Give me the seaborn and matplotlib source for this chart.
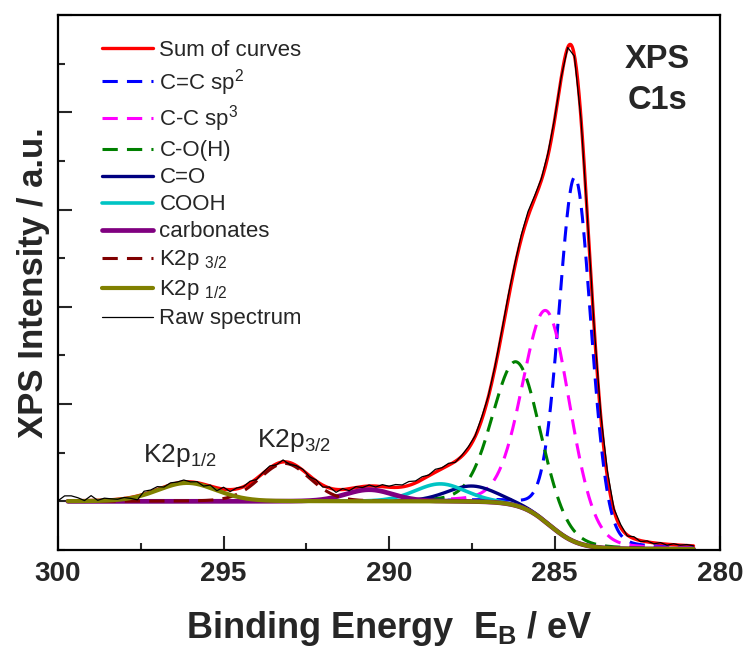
import numpy as np
import pandas as pd
import matplotlib
matplotlib.use("Agg")
import matplotlib.pyplot as plt
import seaborn as sns
from matplotlib.ticker import MultipleLocator, NullFormatter

# ---- data -----------------------------------------------------------------
# Fitted components: centre (eV), height above background (a.u.), FWHM (eV)
component_labels = ["C=C sp$^2$", "C-C sp$^3$", "C-O(H)", "C=O", "COOH",
                    "carbonates", "K2p $_{3/2}$", "K2p $_{1/2}$"]
component_centres = [284.38, 285.22, 286.15, 287.50, 288.45, 290.60, 293.15, 296.10]
component_heights = [3.75, 2.18, 1.48, 0.16, 0.18, 0.12, 0.39, 0.19]
component_fwhm = [1.15, 1.70, 1.70, 1.80, 1.80, 1.70, 1.80, 2.10]
lorentz_fraction = 0.15

# Shirley-type background: level on the high-BE side, on the low-BE side,
# position and softness of the step (eV)
background_high = 0.0
background_low = -0.49
background_step_centre = 285.15
background_step_width = 0.44

# Raw spectrum: 0.2 eV sampling from 300.0 eV downwards, stored as the
# deviation of each measured point from the fitted envelope
raw_first_energy = 300.0
raw_energy_step = 0.2
raw_deviation = [
    0.00, 0.05, 0.05, 0.03, 0.00, 0.05, 0.00, 0.02, 0.01, 0.00,
    0.01, -0.01, -0.04, 0.03, 0.02, 0.03, 0.00, 0.02, 0.01, 0.02,
    0.00, 0.01, -0.02, 0.01, -0.03, 0.02, -0.02, 0.01, 0.00, 0.02,
    -0.01, 0.01, 0.02, -0.01, 0.02, -0.02, 0.00, 0.01, -0.01, 0.01,
    -0.02, 0.01, -0.03, 0.01, -0.02, 0.01, -0.01, 0.01, -0.01, 0.02,
    0.01, 0.03, 0.02, 0.04, 0.02, 0.03, 0.01, 0.03, 0.01, 0.02,
    -0.01, 0.01, 0.02, 0.01, 0.03, 0.01, 0.02, 0.03, 0.04, 0.03,
    0.04, 0.05, 0.03, 0.02, 0.03, 0.02, 0.01, 0.00, -0.01, -0.01,
    0.00, 0.01, 0.03, 0.06, 0.02, 0.03, -0.01, 0.02, -0.01, 0.01,
    -0.01, 0.01, -0.01, 0.01, 0.00, 0.01, 0.00,
]

# Energy range covered by the fitted curves (eV)
fit_energy_high = 299.7
fit_energy_low = 280.8

# ---- styling ---------------------------------------------------------------
component_colors = ["#0000ff", "#ff00ff", "#008000", "#000080", "#00c4c4",
                    "#800080", "#800000", "#808000"]
component_styles = ["--", "--", "--", "-", "-", "-", "--", "-"]
component_widths = [2.2, 2.2, 2.2, 2.4, 2.6, 3.4, 2.2, 3.0]

sns.set_style("ticks")
plt.rcParams["font.family"] = ["Liberation Sans", "DejaVu Sans"]
plt.rcParams["mathtext.fontset"] = "custom"
plt.rcParams["mathtext.rm"] = "Liberation Sans"
plt.rcParams["mathtext.it"] = "Liberation Sans:italic"
plt.rcParams["mathtext.bf"] = "Liberation Sans:bold"


def pseudo_voigt(energy, centre, height, fwhm):
    u = (energy - centre) / fwhm
    gauss = np.exp(-4.0 * np.log(2.0) * u ** 2)
    lorentz = 1.0 / (1.0 + 4.0 * u ** 2)
    return height * ((1.0 - lorentz_fraction) * gauss + lorentz_fraction * lorentz)


def background(energy):
    step = 1.0 / (1.0 + np.exp((energy - background_step_centre) / background_step_width))
    return background_high + (background_low - background_high) * step


def envelope(energy):
    total = background(energy)
    for c, h, w in zip(component_centres, component_heights, component_fwhm):
        total = total + pseudo_voigt(energy, c, h, w)
    return total


energy = np.linspace(fit_energy_high, fit_energy_low, 946)
raw_energy = raw_first_energy - raw_energy_step * np.arange(len(raw_deviation))
raw_counts = envelope(raw_energy) + np.array(raw_deviation)

fig = plt.figure(figsize=(7.46, 6.47), dpi=100)
ax = fig.add_axes([58 / 746, 1 - 550 / 647, 662 / 746, 535 / 647])

sns.lineplot(x=energy, y=envelope(energy), color="#ff0000", lw=2.4,
             label="Sum of curves", ax=ax, errorbar=None)
for lab, c, h, w, col, ls, lw in zip(component_labels, component_centres,
                                      component_heights, component_fwhm,
                                      component_colors, component_styles,
                                      component_widths):
    curve = background(energy) + pseudo_voigt(energy, c, h, w)
    line_kw = dict(dashes=(5, 3)) if ls == "--" else {}
    sns.lineplot(x=energy, y=curve, color=col, lw=lw, label=lab, ax=ax,
                 errorbar=None, **line_kw)
sns.lineplot(x=raw_energy, y=raw_counts, color="black", lw=0.9,
             label="Raw spectrum", ax=ax, errorbar=None)

ax.set_xlim(300, 280)
ax.set_ylim(-0.5, 5.0)
ax.xaxis.set_major_locator(MultipleLocator(5))
ax.xaxis.set_minor_locator(MultipleLocator(2.5))
ax.yaxis.set_major_locator(MultipleLocator(1))
ax.yaxis.set_minor_locator(MultipleLocator(0.5))
ax.yaxis.set_major_formatter(NullFormatter())
ax.tick_params(which="both", direction="in", top=False, right=False, width=1.5)
ax.tick_params(which="major", length=10)
ax.tick_params(which="minor", length=5)
ax.tick_params(axis="x", which="major", labelsize=20, pad=8)
for t in ax.get_xticklabels():
    t.set_fontweight("bold")
for sp in ax.spines.values():
    sp.set_linewidth(1.6)
    sp.set_color("black")
    sp.set_visible(True)

ax.set_xlabel(r"Binding Energy  E$_\mathbf{B}$ / eV", fontsize=26,
              fontweight="bold", labelpad=16)
ax.set_ylabel("XPS Intensity / a.u.", fontsize=25, fontweight="bold", labelpad=2)

ax.text(0.906, 0.945, "XPS\nC1s", transform=ax.transAxes, ha="center", va="top",
        multialignment="center", fontsize=23.5, fontweight="bold", linespacing=1.4)
ax.text(296.33, 0.47, "K2p$_{1/2}$", fontsize=19, ha="center", va="center")
ax.text(292.88, 0.63, "K2p$_{3/2}$", fontsize=19, ha="center", va="center")

leg = ax.legend(loc="upper left", bbox_to_anchor=(0.066, 0.954), frameon=False,
                fontsize=16, borderpad=0, borderaxespad=0, handlelength=2.3,
                handletextpad=0.3, labelspacing=0.27)

fig.savefig("out.png", dpi=100)
